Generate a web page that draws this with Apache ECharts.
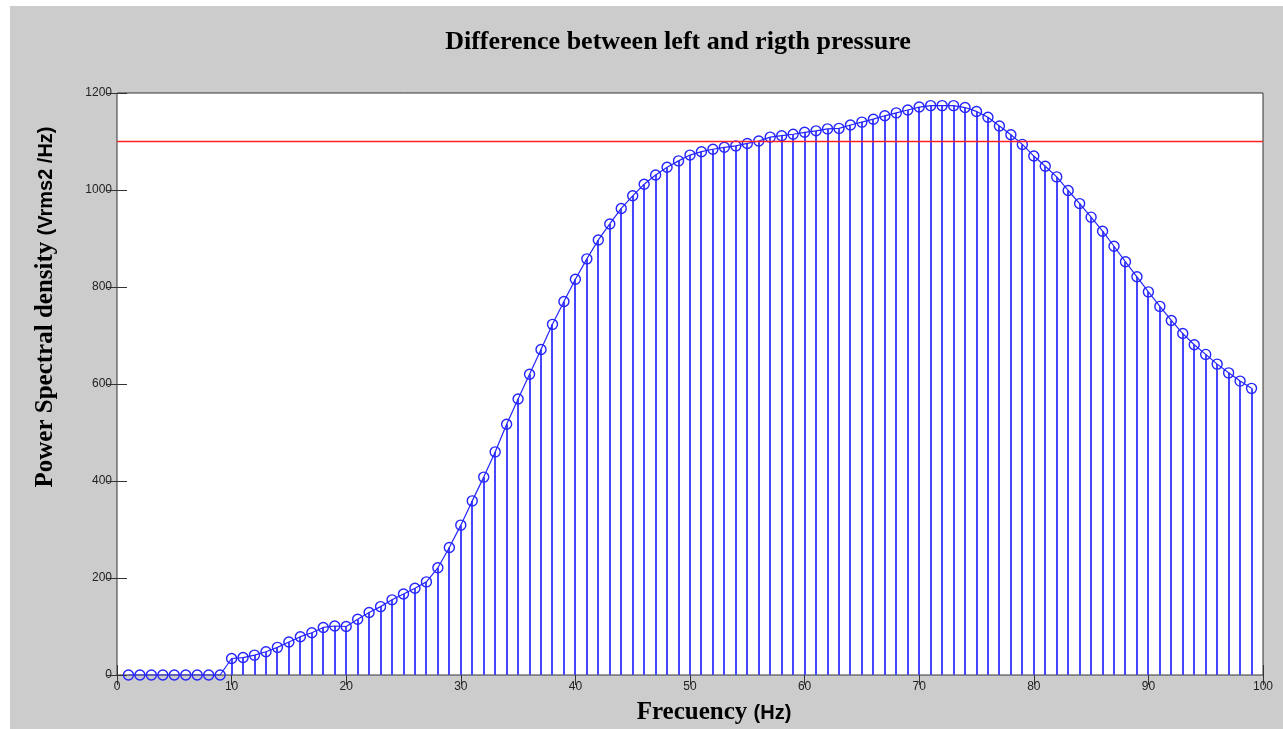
<!DOCTYPE html>
<html>
<head>
<meta charset="utf-8">
<script src="https://cdn.jsdelivr.net/npm/echarts@6/dist/echarts.min.js"></script>
<style>
    html, body { margin: 0; padding: 0; background: #fff; }
    #psd-chart { position: absolute; left: 10px; top: 6px; width: 1273px; height: 723px; background: #cccccc; }
</style>
</head>
<body>
<div id="psd-chart"></div>
<script>
// 频率 (Hz)
const freqs = [
    1, 2, 3, 4, 5, 6, 7, 8, 9,
    10, 11, 12, 13, 14, 15, 16, 17, 18, 19,
    20, 21, 22, 23, 24, 25, 26, 27, 28, 29,
    30, 31, 32, 33, 34, 35, 36, 37, 38, 39,
    40, 41, 42, 43, 44, 45, 46, 47, 48, 49,
    50, 51, 52, 53, 54, 55, 56, 57, 58, 59,
    60, 61, 62, 63, 64, 65, 66, 67, 68, 69,
    70, 71, 72, 73, 74, 75, 76, 77, 78, 79,
    80, 81, 82, 83, 84, 85, 86, 87, 88, 89,
    90, 91, 92, 93, 94, 95, 96, 97, 98, 99
];
// PSD values
const psd = [
    0, 0, 0, 0, 0, 0, 0, 0, 0,
    34, 36, 41, 48, 57, 68, 79, 87, 98, 101,
    100, 115, 129, 141, 155, 167, 179, 192, 221, 263,
    309, 359, 408, 460, 517, 569, 620, 671, 723, 770,
    816, 858, 897, 930, 962, 988, 1012, 1031, 1047, 1060,
    1072, 1079, 1084, 1088, 1091, 1096, 1101, 1109, 1112, 1115,
    1119, 1122, 1126, 1127, 1134, 1140, 1146, 1153, 1159, 1165,
    1171, 1174, 1174, 1174, 1170, 1162, 1150, 1132, 1114, 1094,
    1070, 1049, 1027, 999, 972, 944, 915, 884, 852, 821,
    790, 760, 731, 704, 681, 661, 641, 623, 606, 591
];
// 红色阈值线
const threshold = 1100;
const xTicks = [0, 10, 20, 30, 40, 50, 60, 70, 80, 90, 100];
const yTicks = [0, 200, 400, 600, 800, 1000, 1200];

const points = freqs.map((f, i) => [f, psd[i]]);
const stemColor = '#4646ff';
const curveColor = '#2424ff';

const chart = echarts.init(document.getElementById('psd-chart'));

const tickLabel = { color: '#222', fontSize: 12, fontFamily: 'Arial, "Liberation Sans", sans-serif', formatter: (v) => String(v) };
const boxAxis = {
    axisLine: { show: false },
    axisTick: { show: true, inside: true, length: 10, lineStyle: { color: '#333', width: 1 } },
    splitLine: { show: false }
};
const serifBold = '"Liberation Serif", "Times New Roman", serif';
const sansBold = 'Arial, "Liberation Sans", sans-serif';

chart.setOption({
    animation: false,
    grid: {
        left: 107,
        right: 20,
        top: 87,
        bottom: 54,
        show: true,
        backgroundColor: '#ffffff',
        borderColor: '#333',
        borderWidth: 1
    },
    xAxis: [
        Object.assign({
            type: 'value',
            min: xTicks[0],
            max: xTicks[xTicks.length - 1],
            interval: 10,
            axisLabel: Object.assign({ margin: 6 }, tickLabel)
        }, boxAxis),
        Object.assign({
            type: 'value',
            position: 'top',
            min: xTicks[0],
            max: xTicks[xTicks.length - 1],
            interval: 10,
            axisLabel: { show: false }
        }, boxAxis)
    ],
    yAxis: [
        Object.assign({
            type: 'value',
            min: yTicks[0],
            max: yTicks[yTicks.length - 1],
            interval: 200,
            axisLabel: Object.assign({ margin: 5 }, tickLabel)
        }, boxAxis),
        Object.assign({
            type: 'value',
            position: 'right',
            min: yTicks[0],
            max: yTicks[yTicks.length - 1],
            interval: 200,
            axisLabel: { show: false }
        }, boxAxis)
    ],
    graphic: [
        {
            type: 'text',
            x: 668,
            y: 36,
            style: {
                text: 'Difference between left and rigth pressure',
                fill: '#000',
                font: 'bold 26px ' + serifBold,
                align: 'center',
                verticalAlign: 'middle'
            }
        },
        {
            type: 'text',
            x: 36,
            y: 301,
            rotation: Math.PI / 2,
            style: {
                text: '{a|Power Spectral density }{b|(Vrms2 /Hz)}',
                align: 'center',
                verticalAlign: 'middle',
                rich: {
                    a: { fontSize: 25, fontWeight: 'bold', fontFamily: serifBold, fill: '#000' },
                    b: { fontSize: 20, fontWeight: 'bold', fontFamily: sansBold, fill: '#000' }
                }
            }
        },
        {
            type: 'text',
            x: 704,
            y: 707,
            style: {
                text: '{a|Frecuency }{b|(Hz)}',
                align: 'center',
                verticalAlign: 'middle',
                rich: {
                    a: { fontSize: 25, fontWeight: 'bold', fontFamily: serifBold, fill: '#000' },
                    b: { fontSize: 20, fontWeight: 'bold', fontFamily: sansBold, fill: '#000' }
                }
            }
        }
    ],
    series: [
        {
            // 竖直茎线
            type: 'custom',
            data: points,
            renderItem: (params, api) => {
                const top = api.coord([api.value(0), api.value(1)]);
                const base = api.coord([api.value(0), 0]);
                const x = Math.round(top[0]);
                return {
                    type: 'line',
                    shape: { x1: x, y1: top[1], x2: x, y2: base[1] },
                    style: { stroke: stemColor, lineWidth: 2 }
                };
            },
            z: 2
        },
        {
            // 阈值线
            type: 'custom',
            data: [[threshold]],
            renderItem: (params, api) => {
                const left = api.coord([xTicks[0], api.value(0)]);
                const right = api.coord([xTicks[xTicks.length - 1], api.value(0)]);
                const y = Math.round(left[1]) - 0.5;
                return {
                    type: 'line',
                    shape: { x1: left[0], y1: y, x2: right[0], y2: y },
                    style: { stroke: '#ff2020', lineWidth: 1.6 }
                };
            },
            z: 4
        },
        {
            type: 'line',
            data: points,
            symbol: 'circle',
            symbolSize: 10,
            itemStyle: { color: 'rgba(0,0,0,0)', borderColor: curveColor, borderWidth: 1.4 },
            lineStyle: { color: curveColor, width: 1.2 },
            z: 3
        }
    ]
});

window.addEventListener('resize', () => {
    chart.resize();
});
</script>
</body>
</html>
